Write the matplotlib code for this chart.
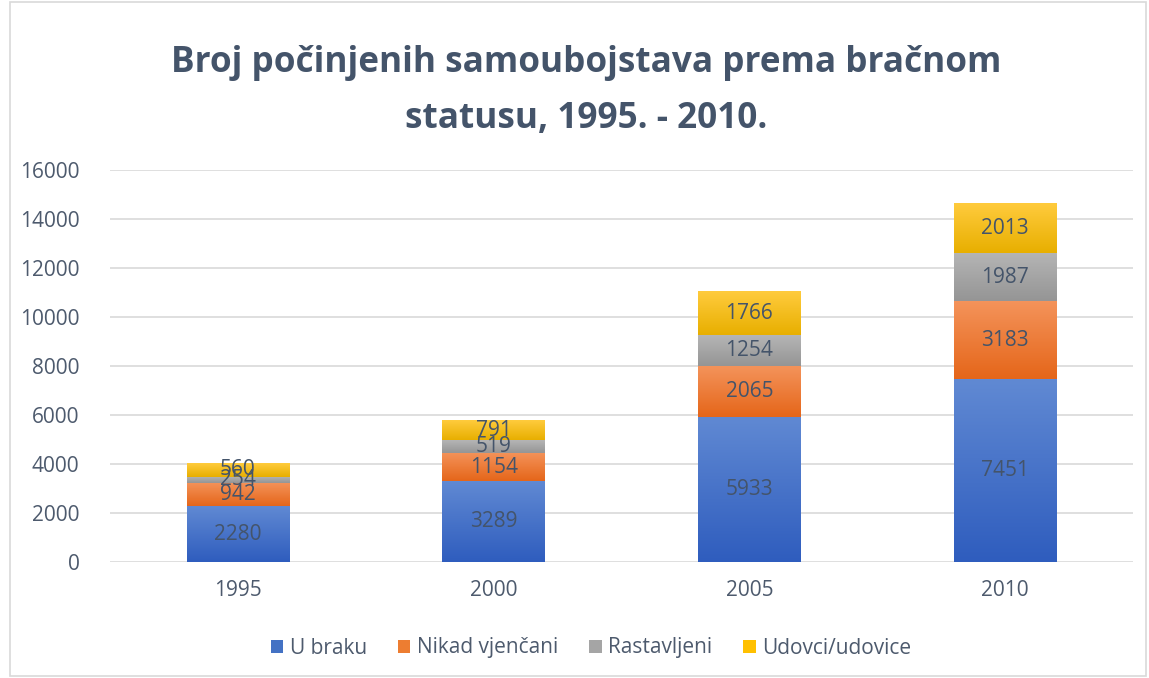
import matplotlib
matplotlib.use("Agg")
import matplotlib.pyplot as plt
import numpy as np
from matplotlib.colors import LinearSegmentedColormap
from matplotlib.patches import Patch, Rectangle

years = ["1995", "2000", "2005", "2010"]
series_names = ["U braku", "Nikad vjenčani", "Rastavljeni", "Udovci/udovice"]
u_braku = [2280, 3289, 5933, 7451]
nikad_vjencani = [942, 1154, 2065, 3183]
rastavljeni = [254, 519, 1254, 1987]
udovci = [560, 791, 1766, 2013]
yticks = [0, 2000, 4000, 6000, 8000, 10000, 12000, 14000, 16000]

base_colors = ["#4472C4", "#ED7D31", "#A5A5A5", "#FFC000"]
grad_top = ["#6089D3", "#F4935A", "#B5B5B5", "#FFCB3D"]
grad_bot = ["#2F5DBE", "#E5661A", "#959595", "#E8AF00"]
text_col = "#44546A"

plt.rcParams['font.family'] = ['Open Sans', 'DejaVu Sans']

fig = plt.figure(figsize=(11.49, 6.78), dpi=100)
ax = fig.add_axes([110/1149, 116/678, (1133-110)/1149, (562-170)/678])

x = np.arange(len(years))
width = 0.4
bottom = np.zeros(len(years))
all_data = [u_braku, nikad_vjencani, rastavljeni, udovci]
for i, vals in enumerate(all_data):
    vals = np.array(vals, dtype=float)
    bars = ax.bar(x, vals, width, bottom=bottom, color=base_colors[i], zorder=2, linewidth=0)
    cmap = LinearSegmentedColormap.from_list("g%d" % i, [grad_bot[i], grad_top[i]])
    grad = np.linspace(0, 1, 64).reshape(-1, 1)
    for b in bars:
        x0, y0 = b.get_x(), b.get_y()
        ax.imshow(grad, extent=[x0, x0 + b.get_width(), y0, y0 + b.get_height()],
                  origin='lower', aspect='auto', cmap=cmap, zorder=2.5, interpolation='bilinear')
        b.set_facecolor('none')
    for xi, v, bt in zip(x, vals, bottom):
        ax.text(xi, bt + v / 2, "%d" % v, ha='center', va='center', fontsize=15,
                color=text_col, zorder=5)
    bottom += vals

ax.set_xlim(-0.5, len(years) - 0.5)
ax.set_ylim(0, 16000)
ax.set_yticks(yticks)
ax.set_yticklabels([str(t) for t in yticks], fontsize=15, color="#4D5A6D")
ax.set_xticks(x)
ax.set_xticklabels(years, fontsize=15, color="#4D5A6D")
ax.tick_params(axis='both', length=0)
ax.tick_params(axis='y', pad=22)
ax.tick_params(axis='x', pad=13)
ax.grid(axis='y', color="#D9D9D9", linewidth=1.2, zorder=0)
ax.set_axisbelow(True)
for s in ax.spines.values():
    s.set_visible(False)

fig.text(586/1149, 1 - 63/678, "Broj počinjenih samoubojstava prema bračnom",
         ha='center', va='center', fontsize=25.3, fontweight='bold', color=text_col)
fig.text(586/1149, 1 - 119/678, "statusu, 1995. - 2010.",
         ha='center', va='center', fontsize=25.3, fontweight='bold', color=text_col)

handles = [Patch(facecolor=c, edgecolor='none') for c in base_colors]
fig.legend(handles, series_names, loc='center', bbox_to_anchor=(591/1149, 1 - 648/678),
           ncol=4, frameon=False, fontsize=15, handlelength=0.6, handleheight=0.6,
           handletextpad=0.3, columnspacing=1.5, labelcolor="#4D5A6D")

fig.patches.append(Rectangle((10/1149, 2/678), (1146-10)/1149, (676-2)/678,
                             transform=fig.transFigure, fill=False,
                             edgecolor="#D9D9D9", linewidth=1.2))

fig.savefig("out.png", dpi=100)
